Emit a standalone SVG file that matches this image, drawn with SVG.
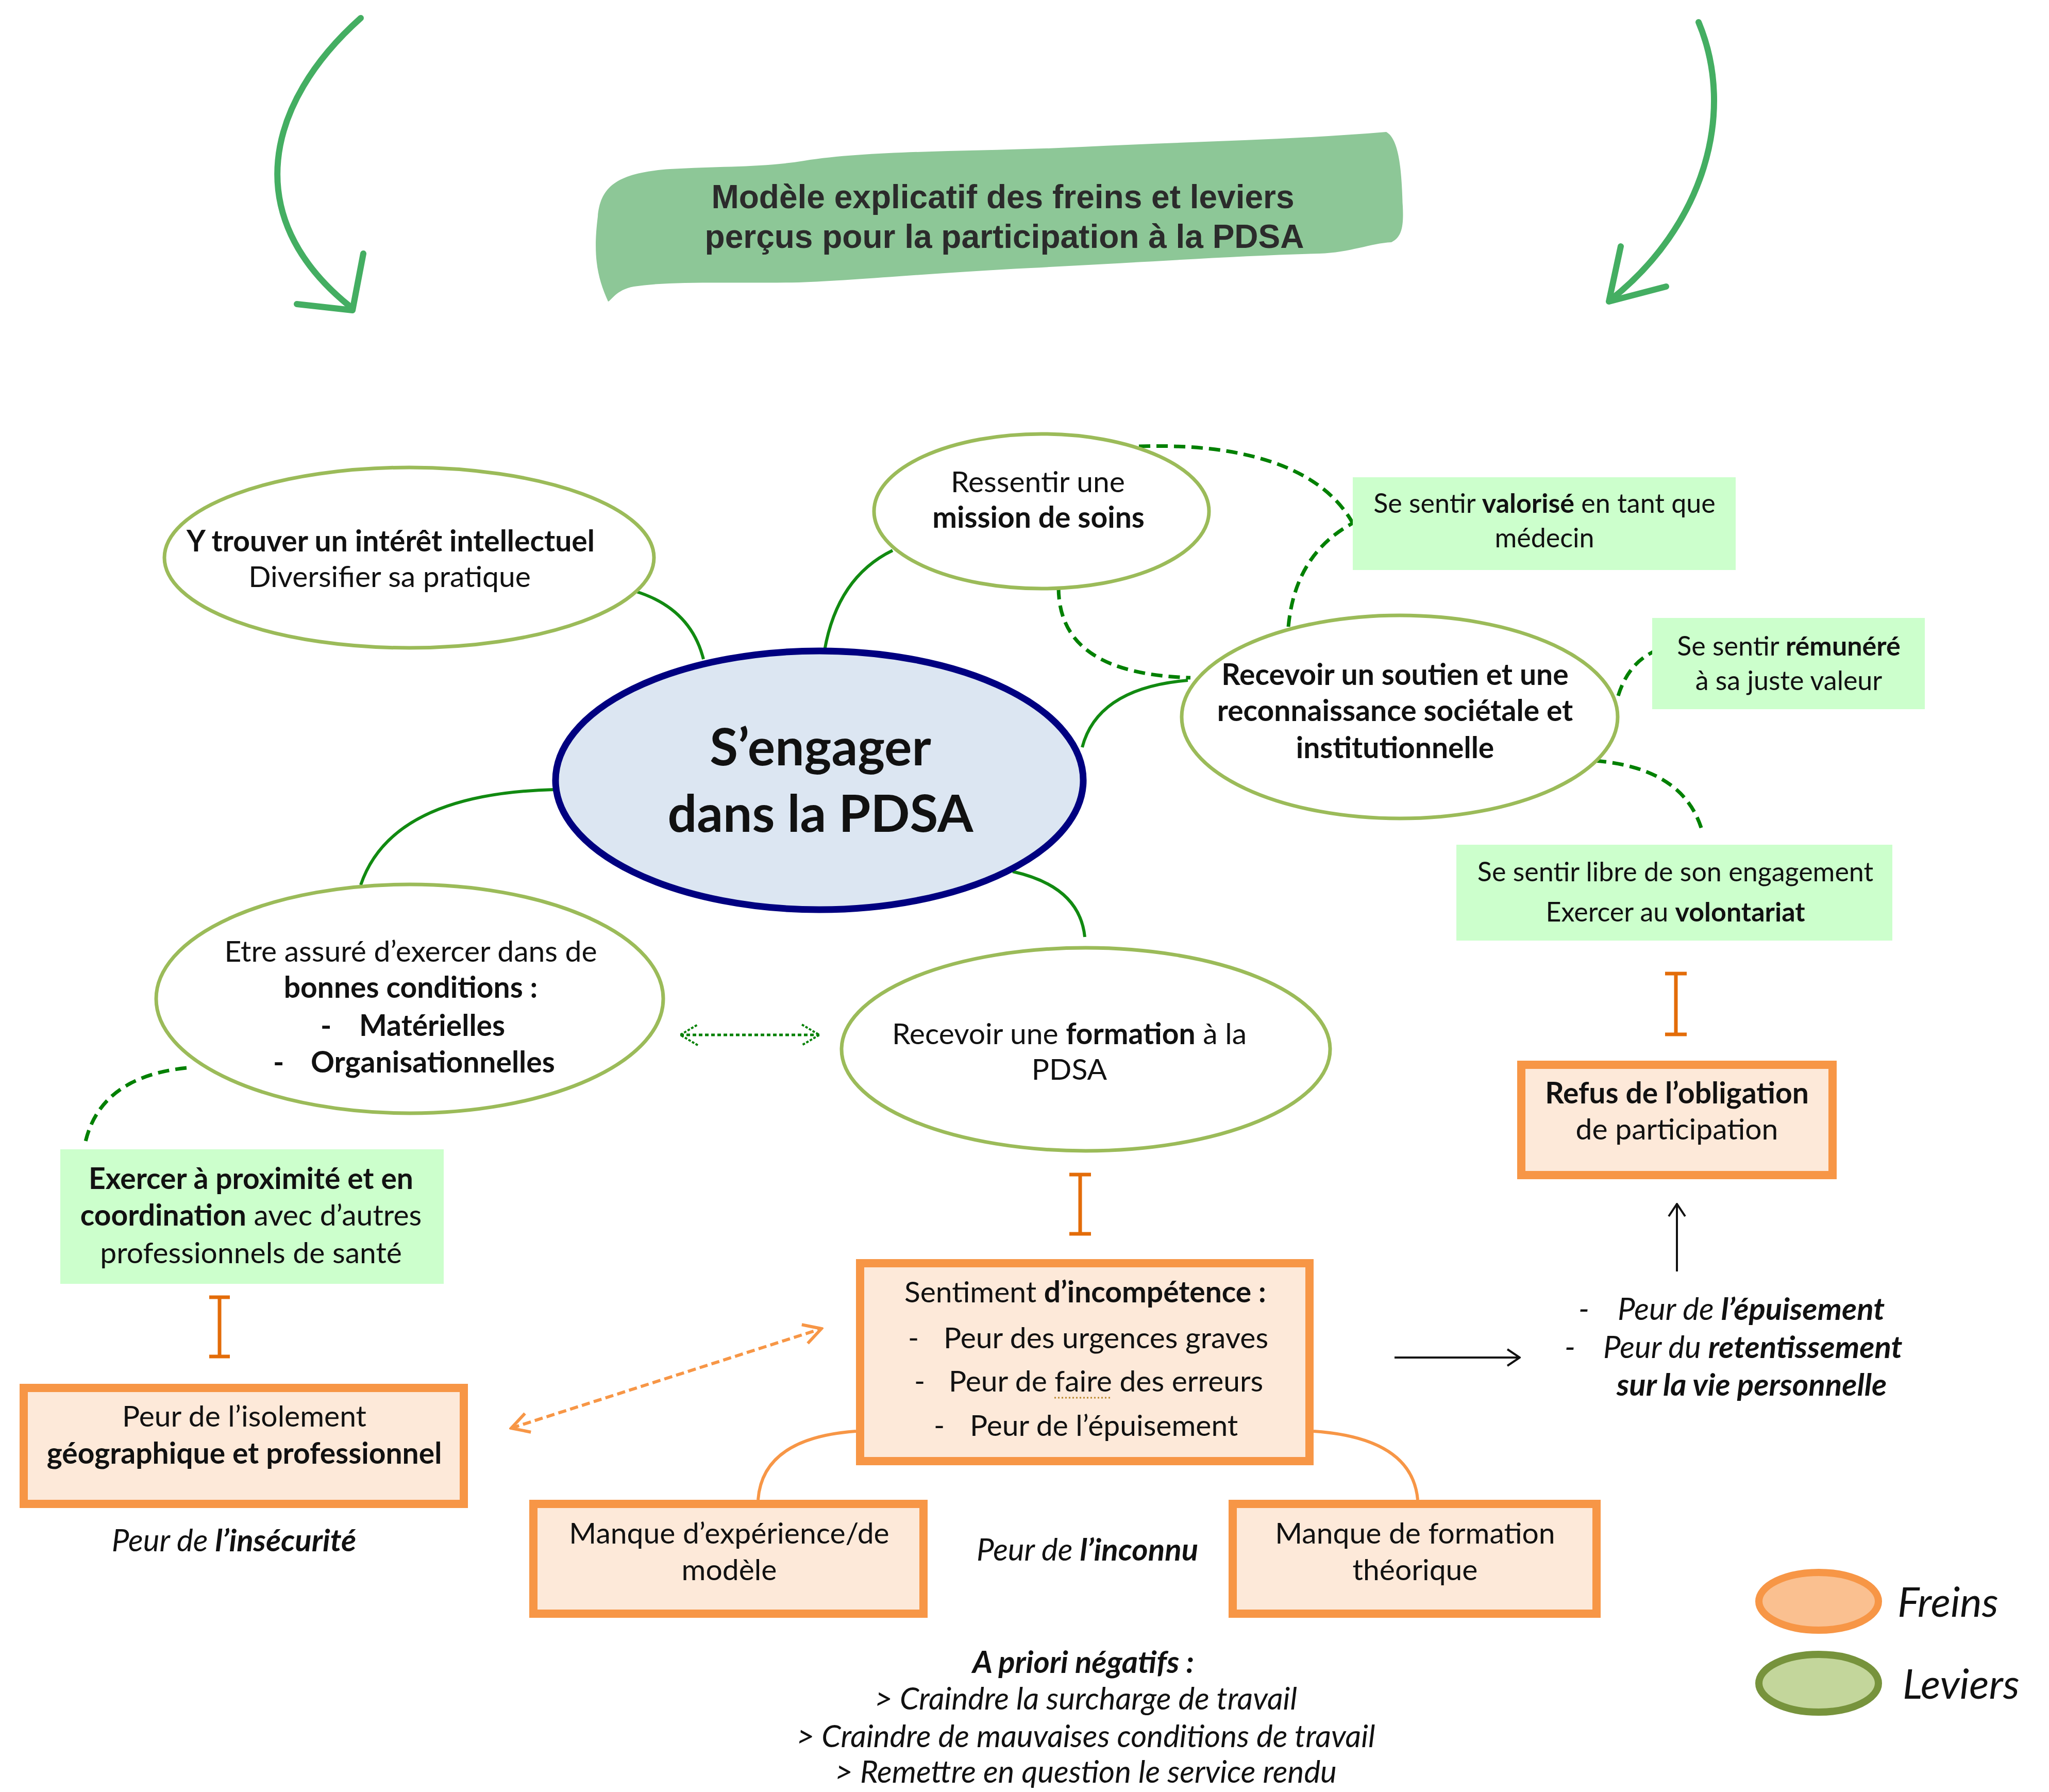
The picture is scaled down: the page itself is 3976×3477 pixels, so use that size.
<svg xmlns="http://www.w3.org/2000/svg" width="3976" height="3477" viewBox="0 0 3976 3477">
<style>
text{font-family:Lato,"Liberation Sans",sans-serif;fill:#111;}
.t{font-family:"Liberation Sans",Arial,sans-serif;font-weight:bold;font-size:64px;fill:#2b2b2b;text-anchor:middle;}
.c{text-anchor:middle;}
.b{font-weight:bold;}
.i{font-style:italic;}
.e{font-size:57px;}
.g{font-size:52px;}
.o{font-size:57px;}
.it{font-size:60px;font-style:italic;}
.lev{fill:#fff;stroke:#9bbb59;stroke-width:7;}
.gb{fill:#ccffcc;}
.ob{fill:#fde9d9;stroke:#f79646;stroke-width:16;}
.sc{fill:none;stroke:#118a11;stroke-width:6;}
.dc{fill:none;stroke:#008000;stroke-width:7;stroke-dasharray:22 12;}
.oc{fill:none;stroke:#f79646;stroke-width:6;}
.ib{fill:none;stroke:#e36c09;stroke-width:7;}
.big{fill:none;stroke:#44ae62;stroke-width:12;stroke-linecap:round;stroke-linejoin:round;}
</style>
<defs>
<marker id="mk" viewBox="0 0 40 40" refX="38" refY="20" markerWidth="40" markerHeight="40" markerUnits="userSpaceOnUse" orient="auto-start-reverse"><path d="M14,4 L38,20 L14,36" fill="none" stroke="#111" stroke-width="4"/></marker>
<marker id="mg" viewBox="0 0 40 44" refX="38" refY="22" markerWidth="40" markerHeight="44" markerUnits="userSpaceOnUse" orient="auto-start-reverse"><path d="M4,2 L38,22 L4,42" fill="none" stroke="#008000" stroke-width="4" stroke-dasharray="5 3"/></marker>
<marker id="mo" viewBox="0 0 44 44" refX="40" refY="22" markerWidth="44" markerHeight="44" markerUnits="userSpaceOnUse" orient="auto-start-reverse"><path d="M6,3 L40,22 L6,41" fill="none" stroke="#f79646" stroke-width="6"/></marker>
</defs>

<g id="title-arrows">
<path class="big" d="M700,35 C515,200 465,420 676,592"/>
<path class="big" d="M705,492 L684,602 L576,590" stroke-width="14"/>
<path class="big" d="M3296,43 C3370,220 3305,440 3125,582"/>
<path class="big" d="M3145,478 L3122,585 L3233,556" stroke-width="14"/>
</g>

<g id="title">
<path d="M1160,420 C1165,360 1200,335 1300,328 C1400,322 1480,325 1560,312 C1700,290 1900,295 2100,285 C2300,275 2500,272 2690,256 C2715,270 2720,330 2722,400 C2724,440 2720,460 2700,470 C2660,472 2620,490 2560,492 C2400,496 2200,510 2000,520 C1800,530 1650,545 1550,548 C1400,550 1300,545 1230,556 C1195,562 1185,585 1180,585 C1160,540 1150,500 1160,420 Z" fill="#8dc797"/>
<text class="t" x="1946" y="404">Modèle explicatif des freins et leviers</text>
<text class="t" x="1949" y="481">perçus pour la participation à la PDSA</text>
</g>

<g id="connectors">
<path class="sc" d="M1232,1147 Q1340,1180 1365,1279"/>
<path class="sc" d="M1732,1068 Q1625,1120 1600,1262"/>
<path class="sc" d="M2100,1450 Q2130,1335 2305,1320"/>
<path class="sc" d="M1075,1532 Q760,1540 700,1717"/>
<path class="sc" d="M1965,1691 Q2095,1720 2105,1818"/>
<path class="dc" d="M2210,866 C2400,860 2560,900 2625,1015"/>
<path class="dc" d="M2500,1216 C2510,1110 2560,1050 2625,1015"/>
<path class="dc" d="M2054,1141 C2055,1260 2150,1310 2310,1315"/>
<path class="dc" d="M3140,1350 Q3160,1285 3214,1262"/>
<path class="dc" d="M3095,1476 Q3270,1490 3304,1616"/>
<path class="dc" d="M362,2072 Q190,2090 164,2224"/>
<path d="M1320,2008 L1590,2008" fill="none" stroke="#008000" stroke-width="5" stroke-dasharray="7 5" marker-start="url(#mg)" marker-end="url(#mg)"/>
<path class="oc" d="M1471,2910 Q1480,2790 1661,2777"/>
<path class="oc" d="M2549,2777 Q2740,2790 2751,2910"/>
<path d="M992,2771 L1594,2578" fill="none" stroke="#f79646" stroke-width="6" stroke-dasharray="16 8" marker-start="url(#mo)" marker-end="url(#mo)"/>
<path d="M2706,2634 L2949,2634" fill="none" stroke="#111" stroke-width="4" marker-end="url(#mk)"/>
<path d="M3254,2467 L3254,2336" fill="none" stroke="#111" stroke-width="4" marker-end="url(#mk)"/>
<path class="ib" d="M3252,1889 V2007 M3231,1889 H3273 M3231,2007 H3273"/>
<path class="ib" d="M2096,2279 V2394 M2075,2279 H2117 M2075,2394 H2117"/>
<path class="ib" d="M426,2517 V2632 M406,2517 H446 M406,2632 H446"/>
</g>

<g id="center">
<ellipse cx="1590" cy="1514" rx="512" ry="251" fill="#dce6f2" stroke="#000080" stroke-width="13"/>
<text class="c b" x="1592" y="1485" font-size="100">S’engager</text>
<text class="c b" x="1592" y="1614" font-size="100">dans la PDSA</text>
</g>

<g id="n-interet">
<ellipse class="lev" cx="794" cy="1082" rx="475" ry="175"/>
<text class="c e b" x="758" y="1070">Y trouver un intérêt intellectuel</text>
<text class="c e" x="756" y="1139">Diversifier sa pratique</text>
</g>

<g id="n-mission">
<ellipse class="lev" cx="2021" cy="992" rx="325" ry="150"/>
<text class="c e" x="2014" y="955">Ressentir une</text>
<text class="c e b" x="2015" y="1024">mission de soins</text>
</g>

<g id="n-soutien">
<ellipse class="lev" cx="2716" cy="1391" rx="423" ry="197"/>
<text class="c e b" x="2707" y="1329">Recevoir un soutien et une</text>
<text class="c e b" x="2707" y="1399">reconnaissance sociétale et</text>
<text class="c e b" x="2707" y="1471">institutionnelle</text>
</g>

<g id="n-conditions">
<ellipse class="lev" cx="795" cy="1938" rx="492" ry="222"/>
<text class="c e" x="797" y="1866">Etre assuré d’exercer dans de</text>
<text class="c e b" x="797" y="1936">bonnes conditions :</text>
<text class="e b" x="622" y="2010">-</text>
<text class="e b" x="697" y="2010">Matérielles</text>
<text class="e b" x="530" y="2081">-</text>
<text class="e b" x="603" y="2081">Organisationnelles</text>
</g>

<g id="n-formation">
<ellipse class="lev" cx="2107" cy="2036" rx="474" ry="197"/>
<text class="c e" x="2075" y="2026">Recevoir une <tspan class="b">formation</tspan> à la</text>
<text class="c e" x="2075" y="2095">PDSA</text>
</g>

<g id="n-valorise">
<rect class="gb" x="2625" y="926" width="743" height="180"/>
<text class="c g" x="2997" y="995">Se sentir <tspan class="b">valorisé</tspan> en tant que</text>
<text class="c g" x="2997" y="1062">médecin</text>
</g>

<g id="n-remunere">
<rect class="gb" x="3206" y="1199" width="529" height="177"/>
<text class="c g" x="3471" y="1272">Se sentir <tspan class="b">rémunéré</tspan></text>
<text class="c g" x="3471" y="1339">à sa juste valeur</text>
</g>

<g id="n-libre">
<rect class="gb" x="2826" y="1639" width="846" height="186"/>
<text class="c g" x="3251" y="1710">Se sentir libre de son engagement</text>
<text class="c g" x="3251" y="1788">Exercer au <tspan class="b">volontariat</tspan></text>
</g>

<g id="n-proximite">
<rect class="gb" x="117" y="2230" width="744" height="261"/>
<text class="c e b" x="487" y="2307">Exercer à proximité et en</text>
<text class="c e" x="487" y="2378"><tspan class="b">coordination</tspan> avec d’autres</text>
<text class="c e" x="487" y="2451">professionnels de santé</text>
</g>

<g id="n-refus">
<rect class="ob" x="2952" y="2066" width="604" height="214"/>
<text class="c o b" x="3254" y="2141">Refus de l’obligation</text>
<text class="c o" x="3254" y="2211">de participation</text>
</g>

<g id="n-incompetence">
<rect class="ob" x="1669" y="2451" width="872" height="384"/>
<text class="o" x="1755" y="2527">Sentiment <tspan class="b">d’incompétence :</tspan></text>
<text class="o" x="1762" y="2616">-</text>
<text class="o" x="1831" y="2616">Peur des urgences graves</text>
<text class="o" x="1774" y="2700">-</text>
<text class="o" x="1841" y="2700">Peur de faire des erreurs</text>
<text class="o" x="1812" y="2786">-</text>
<text class="o" x="1882" y="2786">Peur de l’épuisement</text>
<path d="M2046,2712 H2158" stroke="#b8862b" stroke-width="3" stroke-dasharray="3 4"/>
</g>

<g id="n-isolement">
<rect class="ob" x="46" y="2693" width="854" height="225"/>
<text class="c o" x="474" y="2768">Peur de l’isolement</text>
<text class="c o b" x="474" y="2840">géographique et professionnel</text>
</g>

<g id="n-experience">
<rect class="ob" x="1035" y="2918" width="757" height="213"/>
<text class="c o" x="1415" y="2995">Manque d’expérience/de</text>
<text class="c o" x="1415" y="3066">modèle</text>
</g>

<g id="n-theorique">
<rect class="ob" x="2392" y="2918" width="706" height="213"/>
<text class="c o" x="2746" y="2995">Manque de formation</text>
<text class="c o" x="2746" y="3066">théorique</text>
</g>

<g id="labels">
<text class="it" x="3063" y="2561">-</text>
<text class="it" x="3139" y="2561">Peur de <tspan class="b">l’épuisement</tspan></text>
<text class="it" x="3036" y="2635">-</text>
<text class="it" x="3111" y="2635">Peur du <tspan class="b">retentissement</tspan></text>
<text class="it b" x="3137" y="2708">sur la vie personnelle</text>
<text class="it c" x="454" y="3010">Peur de <tspan class="b">l’insécurité</tspan></text>
<text class="it c" x="2110" y="3028">Peur de <tspan class="b">l’inconnu</tspan></text>
<text class="it c b" x="2102" y="3246">A priori négatifs :</text>
<text class="it c" x="2107" y="3317">&gt; Craindre la surcharge de travail</text>
<text class="it c" x="2107" y="3390">&gt; Craindre de mauvaises conditions de travail</text>
<text class="it c" x="2107" y="3459">&gt; Remettre en question le service rendu</text>
</g>

<g id="legend">
<ellipse cx="3529" cy="3107" rx="116" ry="56" fill="#fac090" stroke="#f79646" stroke-width="14"/>
<ellipse cx="3529" cy="3266" rx="116" ry="56" fill="#c3d69b" stroke="#77933c" stroke-width="14"/>
<text class="i" x="3682" y="3137" font-size="80">Freins</text>
<text class="i" x="3692" y="3296" font-size="80">Leviers</text>
</g>
</svg>
